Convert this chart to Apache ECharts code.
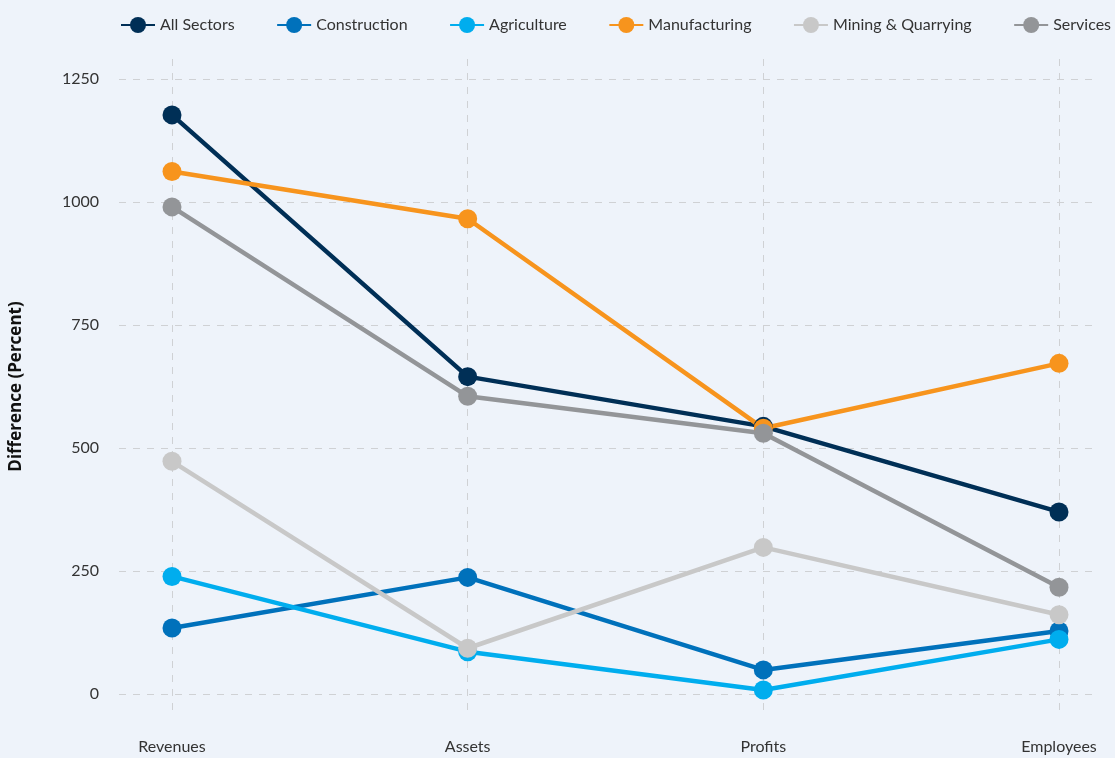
<!DOCTYPE html>
<html>
<head>
<meta charset="utf-8">
<title>Difference by sector</title>
<script src="https://cdn.jsdelivr.net/npm/echarts@6/dist/echarts.min.js"></script>
<style>
  html, body { margin: 0; padding: 0; background: #eef3fa; }
  #chart { width: 1115px; height: 758px; }
</style>
</head>
<body>
<div id="chart"></div>
<script>
const categories = ['Revenues', 'Assets', 'Profits', 'Employees']
const seriesNames = ['All Sectors', 'Construction', 'Agriculture', 'Manufacturing', 'Mining & Quarrying', 'Services']

const allSectors = [1177, 645, 544, 370]
const construction = [134, 237, 49, 128]
const agriculture = [239, 86, 8, 111]
const manufacturing = [1062, 966, 540, 672]
const mining = [473, 93, 298, 161]
const services = [990, 605, 530, 217]

const yTicks = [0, 250, 500, 750, 1000, 1250]

const colors = ['#002f56', '#0071bb', '#00adee', '#f7941d', '#c8c8c8', '#939598']
const values = [allSectors, construction, agriculture, manufacturing, mining, services]

const FONT = 'Lato, "Open Sans", sans-serif'

const chart = echarts.init(document.getElementById('chart'))

const option = {
  backgroundColor: '#eef3fa',
  textStyle: { fontFamily: FONT },
  legend: {
    data: seriesNames,
    left: 115,
    top: 12,
    width: 1200,
    itemWidth: 34,
    itemHeight: 20,
    itemGap: 41.5,
    textStyle: { fontSize: 16, color: '#333', fontFamily: FONT },
  },
  grid: [
    { left: 119, right: 20, top: 79, bottom: 64 },
    { left: 172, right: 56, top: 59, bottom: 42 },
  ],
  xAxis: [
    { gridIndex: 0, type: 'category', data: categories, show: false },
    {
      gridIndex: 1,
      type: 'category',
      data: categories,
      boundaryGap: false,
      axisLine: { show: false },
      axisTick: { show: false },
      axisLabel: { fontSize: 16, color: '#333', margin: 23, fontFamily: FONT },
      splitLine: { show: true, lineStyle: { color: '#cfd1d4', type: [7, 7], width: 1 } },
    },
  ],
  yAxis: [
    {
      gridIndex: 0,
      type: 'value',
      min: yTicks[0],
      max: yTicks[yTicks.length - 1],
      interval: 250,
      axisLine: { show: false },
      axisTick: { show: false },
      axisLabel: { fontSize: 16, color: '#333', margin: 20, fontFamily: FONT, formatter: (v) => String(v) },
      splitLine: { lineStyle: { color: '#cfd1d4', type: [7, 7], width: 1 } },
      name: 'Difference (Percent)',
      nameLocation: 'middle',
      nameGap: 94,
      nameTextStyle: { fontSize: 17, fontWeight: 'bold', color: '#111', fontFamily: '"Open Sans", sans-serif' },
    },
    {
      gridIndex: 1,
      type: 'value',
      min: -44.7,
      max: 1290.6,
      show: false,
      splitLine: { show: false },
    },
  ],
  series: seriesNames.map((name, i) => ({
    name,
    type: 'line',
    xAxisIndex: 1,
    yAxisIndex: 1,
    data: values[i],
    symbol: 'circle',
    symbolSize: 19,
    lineStyle: { width: 4.5, color: colors[i] },
    itemStyle: { color: colors[i] },
    emphasis: { disabled: true },
  })),
  animation: false,
}

chart.setOption(option)
</script>
</body>
</html>
